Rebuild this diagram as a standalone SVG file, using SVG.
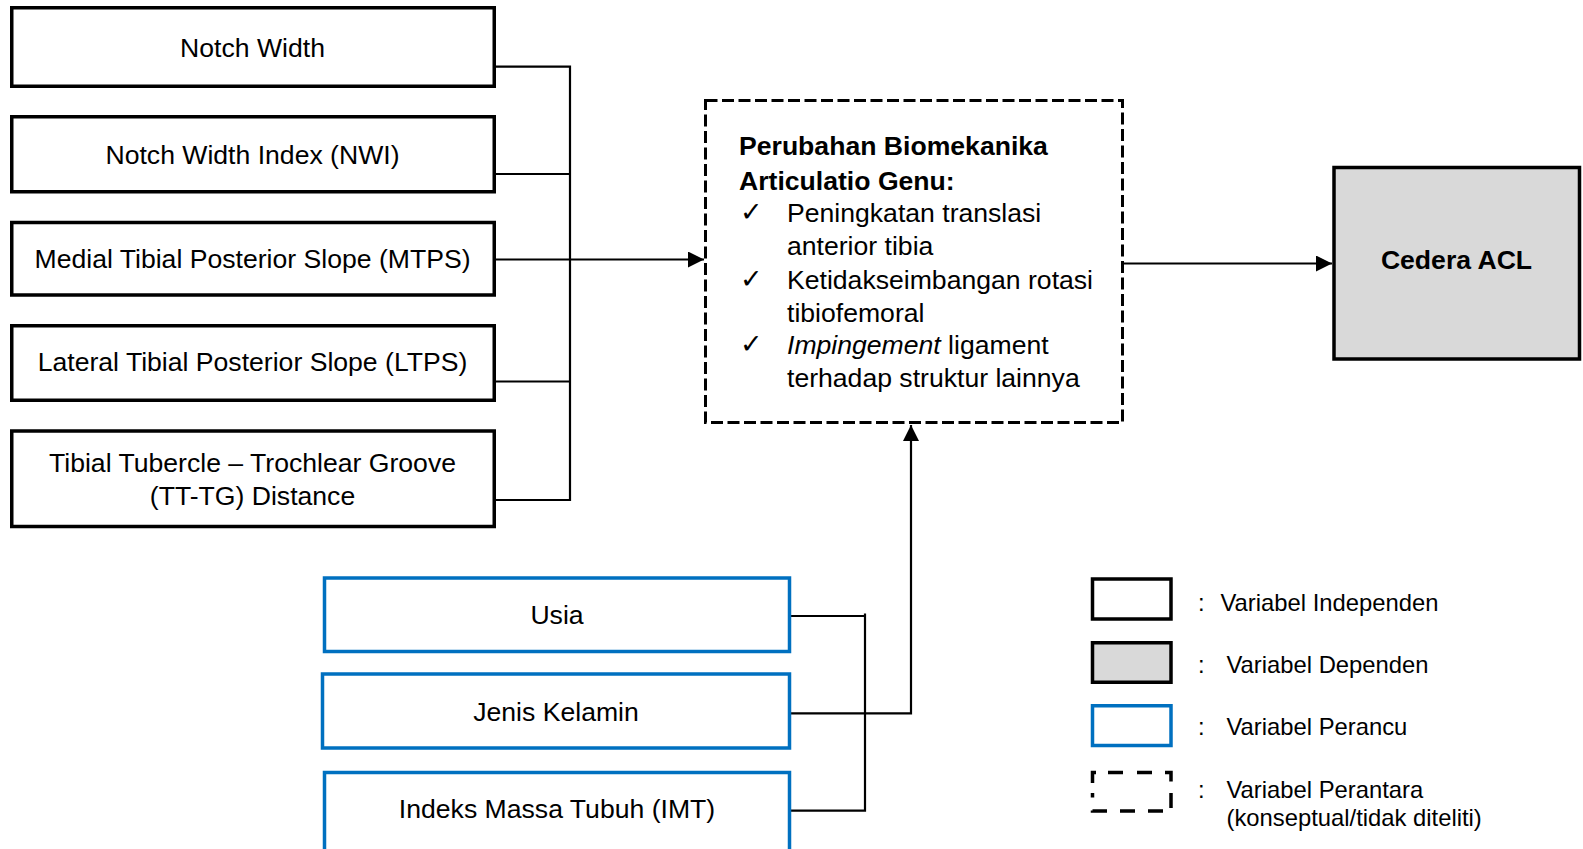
<svg xmlns="http://www.w3.org/2000/svg" width="1583" height="849" viewBox="0 0 1583 849">
  <style>
    .box { fill: #ffffff; stroke: #000000; stroke-width: 3.5; }
    .conf { fill: #ffffff; stroke: #0070C0; stroke-width: 3.5; }
    .dep { fill: #D9D9D9; stroke: #000000; stroke-width: 3.5; }
    .med { fill: #ffffff; stroke: #000000; stroke-width: 3; stroke-dasharray: 12 4.5; }
    .leg-med { fill: none; stroke: #000000; stroke-width: 3.5; stroke-dasharray: 15 13; }
    .t { font-family: "Liberation Sans", Arial, sans-serif; font-size: 26.6px; fill: #000000; }
    .c { text-anchor: middle; }
    .b { font-weight: bold; }
    .lg { font-family: "Liberation Sans", Arial, sans-serif; font-size: 23.8px; fill: #000000; }
    .chk { font-family: "DejaVu Serif", "DejaVu Sans", serif; font-size: 27px; fill: #000000; }
    .wire { fill: none; stroke: #000000; stroke-width: 2.2; }
  </style>
  <defs>
    <marker id="arrow" markerUnits="userSpaceOnUse" markerWidth="17" markerHeight="16" refX="16" refY="8" orient="auto">
      <path d="M0,0 L16,8 L0,16 Z" fill="#000000"/>
    </marker>
  </defs>

  <rect width="1583" height="849" fill="#ffffff"/>

  <!-- connectors -->
  <g id="connectors">
    <!-- independent variables bus -->
    <path class="wire" d="M495,66.7 H570 V500 H495"/>
    <path class="wire" d="M495,174 H570"/>
    <path class="wire" d="M495,381.5 H570"/>
    <path class="wire" d="M495,259.5 H704" marker-end="url(#arrow)"/>
    <!-- mediator to outcome -->
    <path class="wire" d="M1123,263.5 H1332" marker-end="url(#arrow)"/>
    <!-- confounders bus -->
    <path class="wire" d="M791,616 H865 M865,613.5 V810.7 H791"/>
    <path class="wire" d="M791,713.3 H911 V425" marker-end="url(#arrow)"/>
  </g>

  <!-- independent variables -->
  <g id="notch-width">
    <rect class="box" x="11.75" y="7.75" width="482.5" height="78.5"/>
    <text class="t c" x="252.5" y="56.5">Notch Width</text>
  </g>
  <g id="nwi">
    <rect class="box" x="11.75" y="116.75" width="482.5" height="75"/>
    <text class="t c" x="252.5" y="164">Notch Width Index (NWI)</text>
  </g>
  <g id="mtps">
    <rect class="box" x="11.75" y="222.5" width="482.5" height="72.5"/>
    <text class="t c" x="252.5" y="268">Medial Tibial Posterior Slope (MTPS)</text>
  </g>
  <g id="ltps">
    <rect class="box" x="11.75" y="325.75" width="482.5" height="74.5"/>
    <text class="t c" x="252.5" y="371">Lateral Tibial Posterior Slope (LTPS)</text>
  </g>
  <g id="tt-tg">
    <rect class="box" x="11.75" y="431" width="482.5" height="95.5"/>
    <text class="t c" x="252.5" y="471.5">Tibial Tubercle – Trochlear Groove</text>
    <text class="t c" x="252.5" y="505">(TT-TG) Distance</text>
  </g>

  <!-- mediator -->
  <g id="mediator">
    <rect class="med" x="705.5" y="100.5" width="417" height="322"/>
    <text class="t b" x="739" y="155">Perubahan Biomekanika</text>
    <text class="t b" x="739" y="189.5">Articulatio Genu:</text>
    <text class="chk" x="740" y="221">✓</text>
    <text class="t" x="787" y="221.5">Peningkatan translasi</text>
    <text class="t" x="787" y="255">anterior tibia</text>
    <text class="chk" x="740" y="288">✓</text>
    <text class="t" x="787" y="288.5">Ketidakseimbangan rotasi</text>
    <text class="t" x="787" y="321.5">tibiofemoral</text>
    <text class="chk" x="740" y="353">✓</text>
    <text class="t" x="787" y="353.5"><tspan font-style="italic">Impingement</tspan> ligament</text>
    <text class="t" x="787" y="386.5">terhadap struktur lainnya</text>
  </g>

  <!-- dependent variable -->
  <g id="cedera-acl">
    <rect class="dep" x="1334" y="167.5" width="245.5" height="191.5"/>
    <text class="t b c" x="1456.5" y="269">Cedera ACL</text>
  </g>

  <!-- confounders -->
  <g id="usia">
    <rect class="conf" x="324.5" y="578" width="465" height="73.5"/>
    <text class="t c" x="557" y="624">Usia</text>
  </g>
  <g id="jenis-kelamin">
    <rect class="conf" x="322.5" y="674" width="467" height="74"/>
    <text class="t c" x="556" y="721">Jenis Kelamin</text>
  </g>
  <g id="imt">
    <rect class="conf" x="324.5" y="772.5" width="465" height="90"/>
    <text class="t c" x="557" y="818">Indeks Massa Tubuh (IMT)</text>
  </g>

  <!-- legend -->
  <g id="legend-independen">
    <rect class="box" x="1092.5" y="579" width="78.5" height="40"/>
    <text class="lg" x="1198" y="610.5">:</text>
    <text class="lg" x="1220.5" y="610.5">Variabel Independen</text>
  </g>
  <g id="legend-dependen">
    <rect class="dep" x="1092.5" y="642.75" width="78.5" height="39.5"/>
    <text class="lg" x="1198" y="673">:</text>
    <text class="lg" x="1226.5" y="673">Variabel Dependen</text>
  </g>
  <g id="legend-perancu">
    <rect class="conf" x="1092.5" y="705.75" width="78.5" height="39.75"/>
    <text class="lg" x="1198" y="735">:</text>
    <text class="lg" x="1226.5" y="735">Variabel Perancu</text>
  </g>
  <g id="legend-perantara">
    <path class="leg-med" d="M1092.5,783 V772.5 H1096 M1108,772.5 H1123 M1137,772.5 H1152 M1165,772.5 H1171 V783 M1171,793 V811 H1165 M1148,811 H1163 M1120,811 H1135 M1107,811 H1092.5 V793"/>
    <text class="lg" x="1198" y="798">:</text>
    <text class="lg" x="1226.5" y="798">Variabel Perantara</text>
    <text class="lg" x="1226.5" y="826">(konseptual/tidak diteliti)</text>
  </g>
</svg>
